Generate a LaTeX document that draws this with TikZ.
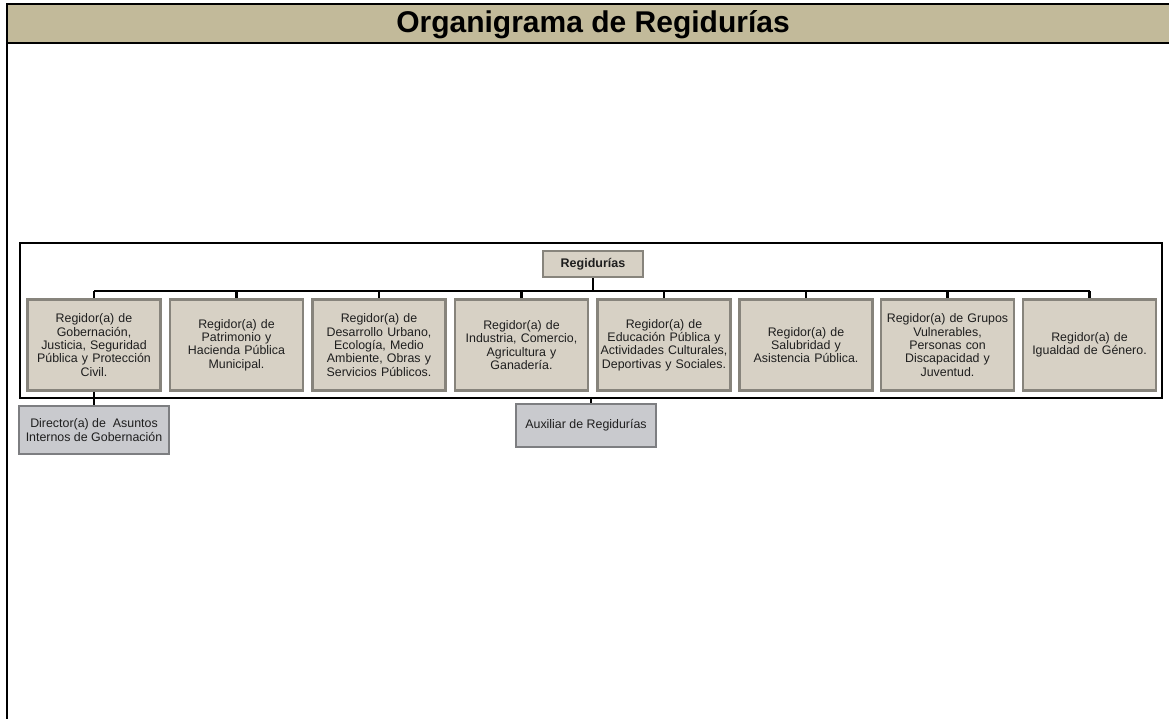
\documentclass[tikz,border=0pt]{standalone}
\usepackage{fontspec}
\setmainfont{Liberation Sans}
\definecolor{headtan}{RGB}{194,186,154}
\definecolor{boxtan}{RGB}{215,209,197}
\definecolor{boxedge}{RGB}{135,132,124}
\definecolor{boxgray}{RGB}{201,202,206}
\definecolor{grayedge}{RGB}{125,126,129}
\definecolor{txt}{RGB}{30,30,30}
\begin{document}
\begin{tikzpicture}[x=1pt,y=-1pt,
  regbox/.style={draw=boxedge,line width=2.5pt,fill=boxtan,minimum width=133pt,minimum height=91pt,
    text width=128pt,align=center,inner sep=0pt,text=txt,font=\fontsize{12.4}{13.3}\selectfont},
  subbox/.style={draw=grayedge,line width=2.5pt,fill=boxgray,align=center,inner sep=0pt,text=txt,
    font=\fontsize{12.4}{14}\selectfont},
  conn/.style={line width=2.4pt,black}]
\useasboundingbox (0,0) rectangle (1169,719);
% header
\fill[headtan] (6,4) rectangle (1169,43);
\draw[line width=2pt] (6,4.5) -- (1169,4.5);
\draw[line width=2pt] (6,43) -- (1169,43);
\draw[line width=2pt] (6.5,3.5) -- (6.5,719);
\node (title) at (593,25) {\fontsize{30}{32}\selectfont\bfseries Organigrama de Regidurías};
% outer frame
\draw[line width=2pt] (20,243) rectangle (1162,398);
% top node
\node[draw=boxedge,line width=2.5pt,fill=boxtan,minimum width=100pt,minimum height=26pt,inner sep=0pt,
  text=txt,font=\fontsize{12.5}{14}\selectfont\bfseries] (reg) at (593,264) {Regidurías};
% level nodes
\node[regbox] (r1) at (94,345) {Regidor(a) de\\Gobernación,\\Justicia, Seguridad\\Pública y Protección\\Civil.};
\node[regbox] (r2) at (236.5,345) {Regidor(a) de\\Patrimonio y\\Hacienda Pública\\Municipal.};
\node[regbox] (r3) at (379,345) {Regidor(a) de\\Desarrollo Urbano,\\Ecología, Medio\\Ambiente, Obras y\\Servicios Públicos.};
\node[regbox] (r4) at (521.5,345) {Regidor(a) de\\Industria, Comercio,\\Agricultura y\\Ganadería.};
\node[regbox] (r5) at (664,345) {Regidor(a) de\\Educación Pública y\\Actividades Culturales,\\Deportivas y Sociales.};
\node[regbox] (r6) at (806,345) {Regidor(a) de\\Salubridad y\\Asistencia Pública.};
\node[regbox] (r7) at (947.5,345) {Regidor(a) de Grupos\\Vulnerables,\\Personas con\\Discapacidad y\\Juventud.};
\node[regbox] (r8) at (1089.5,345) {Regidor(a) de\\Igualdad de Género.};
% sub nodes
\node[subbox,minimum width=150pt,minimum height=48pt] (dir) at (94,430) {Director(a) de\ \ Asuntos\\Internos de Gobernación};
\node[subbox,minimum width=140pt,minimum height=43pt] (aux) at (586,425.5) {Auxiliar de Regidurías};
% connectors
\coordinate (bus) at (593,291);
\coordinate (auxc) at (591,398);
\draw[conn] (reg.south) -- (bus);
\draw[conn] (r1.north |- bus) -- (r8.north |- bus);
\foreach \i in {1,...,8} {\draw[conn] (r\i.north |- bus) -- (r\i.north);}
\draw[conn] (r1.south) -- (dir.north);
\draw[line width=1.5pt] (auxc) -- (auxc |- aux.north);
\end{tikzpicture}
\end{document}
